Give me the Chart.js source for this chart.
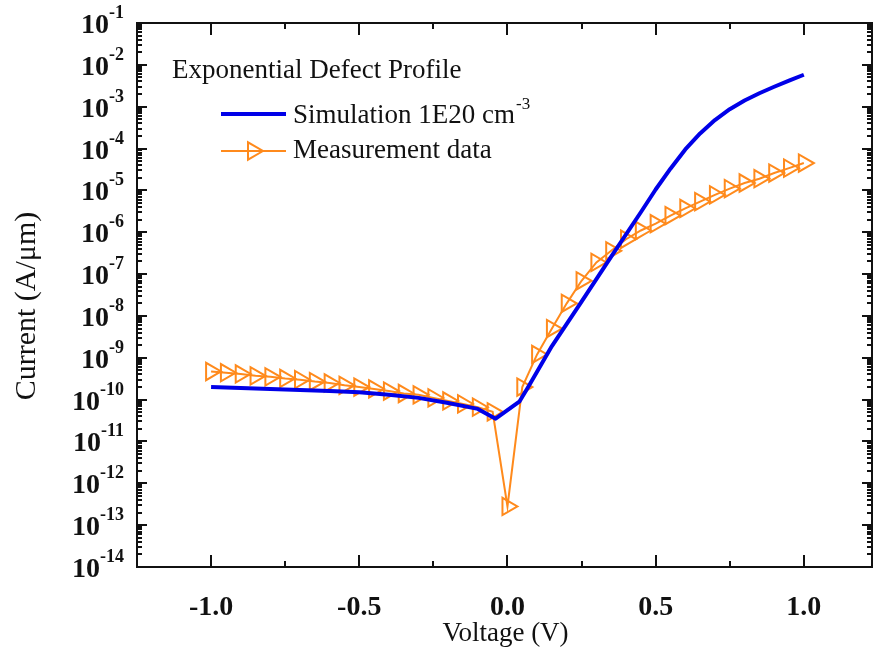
<!DOCTYPE html>
<html>
<head>
<meta charset="utf-8">
<title>I-V curve</title>
<script src="https://cdn.jsdelivr.net/npm/chart.js@4.4.1/dist/chart.umd.min.js"></script>
<style>
  html, body { margin: 0; padding: 0; background: #fff; }
  #wrap { width: 874px; height: 653px; }
</style>
</head>
<body>
<div id="wrap"><canvas id="iv" width="874" height="653"></canvas></div>
<script>
// simulated I-V (exponential defect profile, 1E20 cm^-3)
const simVoltage = [-1.0, -0.8, -0.6, -0.5, -0.4, -0.3, -0.2, -0.1, -0.04, 0.04, 0.07,
  0.15, 0.25, 0.35, 0.45, 0.5, 0.55, 0.6, 0.65, 0.7, 0.75, 0.8, 0.85, 0.9, 0.95, 1.0];
const simCurrent = [2.0e-10, 1.8e-10, 1.6e-10, 1.5e-10, 1.3e-10, 1.1e-10, 8.3e-11, 6.0e-11, 3.5e-11, 8.9e-11, 2.0e-10,
  1.9e-9, 2.2e-8, 2.6e-7, 3.0e-6, 1.05e-5, 3.3e-5, 9.5e-5, 2.3e-4, 4.8e-4, 8.7e-4, 1.4e-3, 2.1e-3, 3.0e-3, 4.2e-3, 5.8e-3];

// measured I-V, 50 mV steps
const measVoltage = [-1.0, -0.95, -0.9, -0.85, -0.8, -0.75, -0.7, -0.65, -0.6, -0.55,
  -0.5, -0.45, -0.4, -0.35, -0.3, -0.25, -0.2, -0.15, -0.1, -0.05,
  0.0, 0.05, 0.1, 0.15, 0.2, 0.25, 0.3, 0.35, 0.4, 0.45,
  0.5, 0.55, 0.6, 0.65, 0.7, 0.75, 0.8, 0.85, 0.9, 0.95, 1.0];
const measCurrent = [4.7e-10, 4.4e-10, 4.1e-10, 3.7e-10, 3.5e-10, 3.2e-10, 3.0e-10, 2.7e-10, 2.5e-10, 2.2e-10,
  2.0e-10, 1.8e-10, 1.6e-10, 1.4e-10, 1.3e-10, 1.1e-10, 9.3e-11, 7.9e-11, 6.6e-11, 5.1e-11,
  2.8e-13, 2.0e-10, 1.2e-9, 5.0e-9, 2.0e-8, 6.9e-8, 1.9e-7, 3.6e-7, 6.8e-7, 1.1e-6,
  1.6e-6, 2.5e-6, 3.7e-6, 5.4e-6, 7.8e-6, 1.1e-5, 1.5e-5, 1.9e-5, 2.6e-5, 3.4e-5, 4.5e-5];

// axes
const xMajorTicks = [-1.0, -0.5, 0.0, 0.5, 1.0];
const xTickLabels = ['-1.0', '-0.5', '0.0', '0.5', '1.0'];
const xMinorTicks = [-0.75, -0.25, 0.25, 0.75];
const yExponents = [-1, -2, -3, -4, -5, -6, -7, -8, -9, -10, -11, -12, -13, -14];

const SERIF = '"Liberation Serif", "Times New Roman", serif';
const BLUE = '#0000e8';
const ORANGE = '#ff8a1c';
const MARKER_R = 10;

const toXY = (xs, ys) => xs.map((v, i) => ({ x: v, y: ys[i] }));

// frame, inward ticks, superscript labels and the little legend block
const frameAxes = {
  id: 'frameAxes',
  afterDraw(chart) {
    const { ctx, chartArea: a, scales: { x, y } } = chart;
    ctx.save();
    ctx.strokeStyle = '#111';
    ctx.lineWidth = 2;
    ctx.strokeRect(a.left, a.top, a.right - a.left, a.bottom - a.top);

    ctx.beginPath();
    const xTick = (v, len) => {
      const px = Math.round(x.getPixelForValue(v));
      ctx.moveTo(px, a.bottom); ctx.lineTo(px, a.bottom - len);
      ctx.moveTo(px, a.top); ctx.lineTo(px, a.top + len);
    };
    const yTick = (v, len) => {
      const py = Math.round(y.getPixelForValue(v));
      ctx.moveTo(a.left, py); ctx.lineTo(a.left + len, py);
      ctx.moveTo(a.right, py); ctx.lineTo(a.right - len, py);
    };
    xMajorTicks.forEach(v => xTick(v, 12));
    xMinorTicks.forEach(v => xTick(v, 6));
    yExponents.forEach(e => yTick(Math.pow(10, e), 10));
    yExponents.slice(1).forEach(e => {
      for (let m = 2; m <= 9; m++) yTick(m * Math.pow(10, e), 5);
    });
    ctx.stroke();

    // x tick labels
    ctx.fillStyle = '#111';
    ctx.font = 'bold 28px ' + SERIF;
    ctx.textAlign = 'center';
    ctx.textBaseline = 'alphabetic';
    xMajorTicks.forEach((v, i) => {
      ctx.fillText(xTickLabels[i], x.getPixelForValue(v), 615);
    });

    // y tick labels: 10^n
    yExponents.forEach(e => {
      const py = y.getPixelForValue(Math.pow(10, e));
      ctx.font = 'bold 18px ' + SERIF;
      const sup = String(e);
      const supW = ctx.measureText(sup).width;
      ctx.textAlign = 'right';
      ctx.fillText(sup, 124, py - 5);
      ctx.font = 'bold 28px ' + SERIF;
      ctx.fillText('10', 124 - supW, py + 10);
    });

    // axis titles
    ctx.font = '27px ' + SERIF;
    ctx.textAlign = 'center';
    ctx.fillText('Voltage (V)', (a.left + a.right) / 2 + 1, 641);
    ctx.save();
    ctx.translate(35, 306);
    ctx.rotate(-Math.PI / 2);
    ctx.font = '30px ' + SERIF;
    ctx.fillText('Current (A/\u03bcm)', 0, 0);
    ctx.restore();

    // legend
    ctx.textAlign = 'left';
    ctx.font = '27px ' + SERIF;
    ctx.fillText('Exponential Defect Profile', 172, 78);
    ctx.fillText('Simulation 1E20 cm', 293, 123);
    const simW = ctx.measureText('Simulation 1E20 cm').width;
    ctx.font = '17px ' + SERIF;
    ctx.fillText('-3', 293 + simW + 1, 109);
    ctx.font = '27px ' + SERIF;
    ctx.fillText('Measurement data', 293, 158);

    ctx.lineCap = 'butt';
    ctx.strokeStyle = BLUE;
    ctx.lineWidth = 4;
    ctx.beginPath(); ctx.moveTo(221, 114); ctx.lineTo(286, 114); ctx.stroke();
    ctx.strokeStyle = ORANGE;
    ctx.lineWidth = 2;
    ctx.beginPath(); ctx.moveTo(221, 151); ctx.lineTo(286, 151); ctx.stroke();
    ctx.fillStyle = 'rgba(0,0,0,0)';
    Chart.helpers.drawPoint(ctx, {
      pointStyle: 'triangle', rotation: 90, radius: MARKER_R, borderWidth: 2
    }, 253, 151);
    ctx.restore();
  }
};

new Chart(document.getElementById('iv'), {
  type: 'line',
  data: {
    datasets: [
      {
        label: 'Simulation 1E20 cm-3',
        data: toXY(simVoltage, simCurrent),
        borderColor: BLUE,
        borderWidth: 4,
        borderJoinStyle: 'round',
        pointRadius: 0,
        tension: 0,
        fill: false
      },
      {
        label: 'Measurement data',
        data: toXY(measVoltage, measCurrent),
        borderColor: ORANGE,
        borderWidth: 2,
        pointStyle: 'triangle',
        rotation: 90,
        pointRadius: MARKER_R,
        pointBorderWidth: 2,
        pointBorderColor: ORANGE,
        pointBackgroundColor: 'rgba(0,0,0,0)',
        tension: 0,
        fill: false
      }
    ]
  },
  options: {
    responsive: false,
    animation: false,
    layout: { autoPadding: false, padding: { left: 0, right: 2, top: 23, bottom: 0 } },
    plugins: {
      legend: { display: false },
      tooltip: { enabled: false }
    },
    scales: {
      x: {
        type: 'linear',
        min: -1.25,
        max: 1.23,
        grid: { display: false },
        border: { display: false },
        ticks: { display: false },
        afterFit: (s) => { s.height = 86; }
      },
      y: {
        type: 'logarithmic',
        min: 1e-14,
        max: 1e-1,
        grid: { display: false },
        border: { display: false },
        ticks: { display: false },
        afterFit: (s) => { s.width = 137; }
      }
    }
  },
  plugins: [frameAxes]
});
</script>
</body>
</html>
